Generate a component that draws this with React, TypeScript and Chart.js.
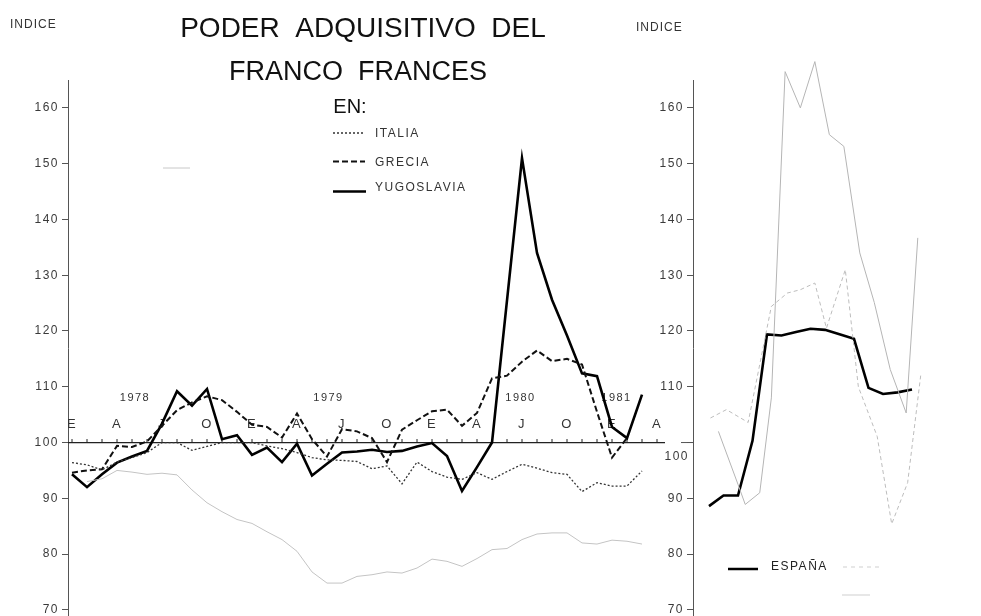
import React, { useEffect, useRef } from 'react';
import { Chart, registerables } from 'chart.js';

Chart.register(...registerables);

const W = 981;
const H = 616;
const FONT = '"Liberation Sans", Arial, sans-serif';

// ---------- LEFT PANEL DATA (monthly, Jan 1978 = 0) ----------
const monthIndex = [
  0, 1, 2, 3, 4, 5, 6, 7, 8, 9, 10, 11, 12, 13, 14, 15, 16, 17, 18, 19,
  20, 21, 22, 23, 24, 25, 26, 27, 28, 29, 30, 31, 32, 33, 34, 35, 36, 37, 38,
];
const italia = [
  96.4, 96.0, 95.1, 96.5, 97.3, 98.2, 100.0, 100.0, 98.6, 99.3,
  100.0, 100.0, 100.0, 99.4, 98.9, 98.2, 97.3, 96.9, 96.8, 96.6,
  95.3, 95.8, 92.6, 96.5, 94.8, 93.8, 93.4, 94.6, 93.4, 94.8,
  96.1, 95.4, 94.6, 94.3, 91.2, 92.8, 92.2, 92.2, 94.9,
];
const grecia = [
  94.6, 95.0, 95.2, 99.4, 99.2, 100.2, 103.0, 105.8, 107.2, 108.3,
  107.6, 105.5, 103.2, 102.8, 100.9, 105.2, 100.6, 97.5, 102.4, 102.0,
  100.8, 96.5, 102.3, 104.0, 105.6, 105.9, 103.0, 105.3, 111.5, 112.0,
  114.5, 116.5, 114.6, 115.0, 114.0, 105.5, 97.3, 100.8, null,
];
const yugoslavia = [
  94.3, 92.0, 94.3, 96.4, 97.5, 98.5, 103.4, 109.2, 106.6, 109.6,
  100.6, 101.3, 97.8, 99.1, 96.5, 99.8, 94.1, 96.2, 98.2, 98.4,
  98.7, 98.3, 98.5, 99.3, 99.9, 97.6, 91.3, 95.6, 100.0, 125.5,
  151.0, 134.0, 125.6, 119.2, 112.4, 111.9, 102.8, 100.8, 108.6,
];
const fadedLeft = [
  null, 93.0, 93.5, 95.0, 94.7, 94.3, 94.5, 94.2, 91.5, 89.2,
  87.6, 86.2, 85.5, 84.0, 82.6, 80.5, 76.8, 74.8, 74.8, 76.0,
  76.3, 76.8, 76.6, 77.5, 79.1, 78.7, 77.8, 79.2, 80.8, 81.0,
  82.6, 83.6, 83.8, 83.8, 82.0, 81.8, 82.5, 82.3, 81.8,
];
const quarterLetters = ['E', 'A', 'J', 'O', 'E', 'A', 'J', 'O', 'E', 'A', 'J', 'O', 'E', 'A'];
const quarterMonths = [0, 3, 6, 9, 12, 15, 18, 21, 24, 27, 30, 33, 36, 39];
const yearLabels = ['1978', '1979', '1980', '1981'];
const yearMonths = [4.2, 17.1, 29.9, 36.3];
const yTicks = [70, 80, 90, 100, 110, 120, 130, 140, 150, 160];

// ---------- RIGHT PANEL DATA ----------
const espanaT = [0, 1, 2, 3, 4, 5, 6, 7, 8, 9, 10, 11, 12, 13, 14];
const espana = [88.6, 90.5, 90.5, 100.3, 119.4, 119.2, 119.8, 120.4, 120.2, 119.4, 118.6, 109.8, 108.7, 109.0, 109.5];
const fadedSolidT = [0.65, 2.0, 2.5, 3.5, 4.3, 5.25, 6.3, 7.3, 8.3, 9.3, 10.4, 11.4, 12.5, 13.6, 14.4];
const fadedSolid = [102, 92.5, 88.9, 91, 108, 166.5, 160, 168.3, 155.2, 153.1, 134, 125.1, 113.1, 105.3, 136.7];
const fadedDashT = [0.1, 1.2, 2.7, 4.3, 5.4, 6.3, 7.3, 8.1, 9.4, 10.3, 11.6, 12.6, 13.7, 14.6];
const fadedDash = [104.4, 105.9, 103.6, 124.4, 126.8, 127.4, 128.6, 120.5, 131, 110, 101.1, 85.4, 92.8, 112];

const pts = (xs: number[], ys: (number | null)[]) => xs.map((x, k) => ({ x, y: ys[k] }));

const yAxis = (width: number, hide100: boolean) => ({
  min: 68.9,
  max: 165,
  afterBuildTicks: (a: any) => {
    a.ticks = yTicks.map((v) => ({ value: v }));
  },
  afterFit: (s: any) => {
    s.width = width;
    s.paddingTop = 0;
    s.paddingBottom = 0;
  },
  grid: { drawOnChartArea: false, drawTicks: true, tickLength: 6, color: '#555', lineWidth: 1 },
  border: { color: '#555', width: 1 },
  ticks: {
    color: '#3a3a3a',
    font: { family: FONT, size: 12 },
    padding: 3,
    callback: (v: any) => (hide100 && v === 100 ? '' : String(v)),
  },
});

const seg = (ctx: CanvasRenderingContext2D, x1: number, y1: number, x2: number, y2: number, color: string, w: number, dash: number[]) => {
  ctx.save();
  ctx.strokeStyle = color;
  ctx.lineWidth = w;
  ctx.setLineDash(dash);
  ctx.beginPath();
  ctx.moveTo(x1, y1);
  ctx.lineTo(x2, y2);
  ctx.stroke();
  ctx.restore();
};

const leftDecor = {
  id: 'leftDecor',
  beforeDraw(chart: any) {
    chart.ctx.letterSpacing = '1.5px';
  },
  beforeDatasetsDraw(chart: any) {
    const { ctx, chartArea } = chart;
    const x = chart.scales.x;
    const y = chart.scales.y;
    const y100 = y.getPixelForValue(100);
    ctx.save();
    ctx.strokeStyle = '#222';
    ctx.lineWidth = 1.3;
    ctx.beginPath();
    ctx.moveTo(chartArea.left, y100);
    ctx.lineTo(chartArea.right, y100);
    ctx.stroke();
    ctx.lineWidth = 1;
    ctx.beginPath();
    for (let m = 0; m <= 39; m++) {
      const px = x.getPixelForValue(m);
      ctx.moveTo(px, y100);
      ctx.lineTo(px, y100 - 3.5);
    }
    ctx.stroke();
    ctx.fillStyle = '#333';
    ctx.textAlign = 'center';
    ctx.textBaseline = 'alphabetic';
    ctx.font = `13px ${FONT}`;
    quarterMonths.forEach((m, k) => ctx.fillText(quarterLetters[k], x.getPixelForValue(m), y100 - 15));
    ctx.font = `11px ${FONT}`;
    yearMonths.forEach((m, k) => ctx.fillText(yearLabels[k], x.getPixelForValue(m), y100 - 42));
    ctx.restore();
  },
  afterDraw(chart: any) {
    const ctx: CanvasRenderingContext2D = chart.ctx;
    ctx.save();
    ctx.fillStyle = '#111';
    ctx.textAlign = 'center';
    ctx.textBaseline = 'alphabetic';
    (ctx as any).letterSpacing = '0px';
    ctx.font = `28px ${FONT}`;
    ctx.fillText('PODER  ADQUISITIVO  DEL', 363, 37);
    ctx.font = `27px ${FONT}`;
    ctx.fillText('FRANCO  FRANCES', 358, 80);
    ctx.font = `20px ${FONT}`;
    ctx.fillText('EN:', 350, 113);
    ctx.textAlign = 'left';
    (ctx as any).letterSpacing = '1px';
    ctx.font = `12px ${FONT}`;
    ctx.fillStyle = '#333';
    ctx.fillText('INDICE', 10, 28);
    ctx.fillText('INDICE', 636, 31);
    (ctx as any).letterSpacing = '1.5px';
    ctx.fillText('ITALIA', 375, 137);
    ctx.fillText('GRECIA', 375, 166);
    ctx.fillText('YUGOSLAVIA', 375, 191);
    ctx.restore();
    seg(ctx, 333, 133, 365, 133, '#333', 1.3, [2, 2]);
    seg(ctx, 333, 161.5, 365, 161.5, '#111', 2, [6, 3]);
    seg(ctx, 333, 191.5, 366, 191.5, '#000', 2.5, []);
    seg(ctx, 163, 168, 190, 168, '#c8c8c8', 1, []);
  },
};

const rightDecor = {
  id: 'rightDecor',
  beforeDraw(chart: any) {
    chart.ctx.letterSpacing = '1.5px';
  },
  afterDraw(chart: any) {
    const ctx: CanvasRenderingContext2D = chart.ctx;
    const y = chart.scales.y;
    const y100 = y.getPixelForValue(100);
    ctx.save();
    ctx.fillStyle = '#3a3a3a';
    ctx.textAlign = 'right';
    ctx.textBaseline = 'middle';
    (ctx as any).letterSpacing = '1.5px';
    ctx.font = `12px ${FONT}`;
    ctx.fillText('100', y.right - 4, y100 + 14);
    ctx.fillStyle = '#222';
    ctx.textAlign = 'left';
    ctx.textBaseline = 'alphabetic';
    ctx.fillText('ESPAÑA', 771, 570);
    ctx.restore();
    seg(ctx, y.right - 12, y100, y.right, y100, '#555', 1, []);
    seg(ctx, 728, 569, 758, 569, '#000', 2.5, []);
    seg(ctx, 843, 567, 880, 567, '#cfcfcf', 1, [4, 4]);
    seg(ctx, 842, 595, 870, 595, '#cfcfcf', 1, []);
  },
};

export default function App() {
  const leftRef = useRef<HTMLCanvasElement>(null);
  const rightRef = useRef<HTMLCanvasElement>(null);

  useEffect(() => {
    const left = new Chart(leftRef.current as HTMLCanvasElement, {
      type: 'line',
      data: {
        datasets: [
          { label: 'faded', data: pts(monthIndex, fadedLeft), borderColor: '#c4c4c4', borderWidth: 1, pointRadius: 0 },
          { label: 'ITALIA', data: pts(monthIndex, italia), borderColor: '#333', borderWidth: 1.3, borderDash: [2, 2], pointRadius: 0 },
          { label: 'GRECIA', data: pts(monthIndex, grecia), borderColor: '#111', borderWidth: 2, borderDash: [6, 3], pointRadius: 0 },
          { label: 'YUGOSLAVIA', data: pts(monthIndex, yugoslavia), borderColor: '#000', borderWidth: 2.6, pointRadius: 0 },
        ],
      } as any,
      options: {
        animation: false,
        responsive: false,
        layout: { padding: { top: 80, left: 0, right: 316, bottom: 0 } },
        plugins: { legend: { display: false }, tooltip: { enabled: false } },
        scales: {
          x: { type: 'linear', min: -0.2667, max: 39.533, display: false },
          y: yAxis(68, false) as any,
        },
      },
      plugins: [leftDecor],
    });

    const right = new Chart(rightRef.current as HTMLCanvasElement, {
      type: 'line',
      data: {
        datasets: [
          { label: 'faded1', data: pts(fadedSolidT, fadedSolid), borderColor: '#b5b5b5', borderWidth: 1, pointRadius: 0, clip: false },
          { label: 'faded2', data: pts(fadedDashT, fadedDash), borderColor: '#bdbdbd', borderWidth: 1, borderDash: [4, 3], pointRadius: 0 },
          { label: 'ESPAÑA', data: pts(espanaT, espana), borderColor: '#000', borderWidth: 2.6, pointRadius: 0 },
        ],
      } as any,
      options: {
        animation: false,
        responsive: false,
        layout: { padding: { top: 80, left: 640, right: 0, bottom: 0 } },
        plugins: { legend: { display: false }, tooltip: { enabled: false } },
        scales: {
          x: { type: 'linear', min: -1.103, max: 18.759, display: false },
          y: yAxis(53, true) as any,
        },
      },
      plugins: [rightDecor],
    });

    return () => {
      left.destroy();
      right.destroy();
    };
  }, []);

  const cStyle: React.CSSProperties = { position: 'absolute', top: 0, left: 0, width: W, height: H, display: 'block' };
  return (
    <div style={{ position: 'absolute', top: 0, left: 0, width: W, height: H, background: '#fff', overflow: 'hidden' }}>
      <canvas ref={leftRef} width={W} height={H} style={cStyle} />
      <canvas ref={rightRef} width={W} height={H} style={cStyle} />
    </div>
  );
}
